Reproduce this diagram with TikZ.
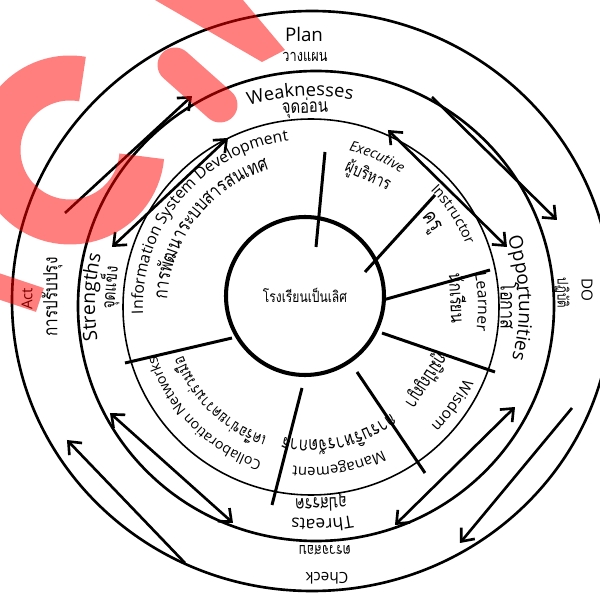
\documentclass[tikz,border=0pt]{standalone}
\usepackage{fontspec}
\setmainfont{Open Sans}
\newfontfamily\thaifont[Script=Thai,FakeStretch=0.78]{Loma}
\usetikzlibrary{calc,arrows.meta,decorations.text}
\newlength\pxl \setlength\pxl{0.02cm}
\newcommand\txtsize[1]{\fontsize{#1}{#1}\selectfont}
% text bent along a circle: (centre)(mid angle:radius){text}
\def\arclabel(#1)(#2:#3)#4{\path[decorate,decoration={text along path,text align=center,text={#4}}] ($(#1)+(#2+70:#3)$) arc[start angle=#2+70,end angle=#2-70,radius=#3];}

\begin{document}
\begin{tikzpicture}[x=0.02cm,y=0.02cm,
  ring/.style={line width=1.5pt},
  inner ring/.style={line width=0.9pt},
  spoke/.style={line width=1.7pt},
  arr/.style={line width=1.5pt,-{Straight Barb[length=6pt,width=10pt]}},
  darr/.style={line width=1.5pt,{Straight Barb[length=6pt,width=10pt]}-{Straight Barb[length=6pt,width=10pt]}},
  lbl/.style={inner sep=0pt}]
		%%%%% START %%%%%
		\useasboundingbox (0,0) rectangle (600,593);
		\clip (0,0) rectangle (600,593);
		
		\draw[ring] (312,292) ellipse [x radius=300,y radius=290];
		\draw[ring] (316,287) ellipse [x radius=238,y radius=235];
		\draw[inner ring] (311,286) circle (188);
		\draw[line width=2.3pt] (305,297) circle (79);
		
		\draw[spoke] (325,441) -- (316,346);
		\draw[spoke] (435,398) -- (365,321);
		\draw[spoke] (490,323) -- (383,293);
		\draw[spoke] (382,260) -- (495,221);
		\draw[spoke] (357,221) -- (425,120);
		\draw[spoke] (302,205) -- (272,88);
		\draw[spoke] (125,230) -- (232,255);
		
		%%%%% PDCA %%%%%
		\node[lbl] (plan) at (304,559) {\resizebox{38\pxl}{!}{Plan}};
		\node[lbl] (planth) at (305,536) {\resizebox{45\pxl}{!}{\thaifont วางแผน}};
		\node[lbl,rotate=90] (act) at (27,294) {\resizebox{22\pxl}{!}{Act}};
		\node[lbl,rotate=90] (actth) at (52,296) {\resizebox{79\pxl}{!}{\thaifont การปรับปรุง}};
		\node[lbl,rotate=-90] (do) at (587,303) {\resizebox{23\pxl}{!}{DO}};
		\node[lbl,rotate=-90] (doth) at (562,300) {\resizebox{30\pxl}{!}{\thaifont ปฏิบัติ}};
		\node[lbl,rotate=180] (check) at (327,15) {\resizebox{43\pxl}{!}{Check}};
		\node[lbl,rotate=180] (checkth) at (325,43) {\resizebox{52\pxl}{!}{\thaifont ตรวจสอบ}};
		
		%%%%% SWOT %%%%%
		\arclabel(313,287)(93.5:210){|\txtsize{10.4}|Weaknesses}
		\arclabel(313,287)(177.7:218){|\txtsize{11}|Strengths}
		\arclabel(313,287)(2.2:206){|\txtsize{10.8}|Opportunities}
		\arclabel(313,287)(-87.6:213){|\txtsize{9.8}|Threats}
		\node[lbl,rotate=2] (weakth) at (305,485) {\resizebox{46\pxl}{!}{\thaifont จุดอ่อน}};
		\node[lbl,rotate=85] (strth) at (110,305) {\resizebox{43\pxl}{!}{\thaifont จุดแข็ง}};
		\node[lbl,rotate=-90] (oppth) at (510,287) {\resizebox{47\pxl}{!}{\thaifont โอกาส}};
		\node[lbl,rotate=-178] (thrth) at (321,91) {\resizebox{52\pxl}{!}{\thaifont อุปสรรค}};
		
		%%%%% SECTORS %%%%%
		\arclabel(311,286)(140:168){|\txtsize{9}|Information System Development}
		\arclabel(311,286)(142:144){|\thaifont\txtsize{11.2}|{ก}{า}{ร}{พั}{ฒ}{น}{า}{ร}{ะ}{บ}{บ}{ส}{า}{ร}{ส}{น}{เ}{ท}{ศ}}
		\arclabel(311,286)(66.2:161){|\itshape\txtsize{8}|Executive}
		\arclabel(311,286)(33.1:167){|\txtsize{8.2}|Instructor}
		\arclabel(311,286)(1.7:167){|\txtsize{8.9}|Learner}
		\arclabel(311,286)(-35:169){|\txtsize{8.7}|Wisdom}
		\arclabel(311,286)(-79.9:160){|\txtsize{8.5}|Management}
		\arclabel(311,286)(-77.6:133){|\thaifont\txtsize{11}|{ก}{า}{ร}{บ}{ริ}{ห}{า}{ร}{จั}{ด}{ก}{า}{ร}}
		\arclabel(311,286)(225:162){|\txtsize{8}|Collaboration Networks}
		\arclabel(311,286)(226:137){|\thaifont\txtsize{9.3}|{เ}{ค}{รื}{อ}{ข่}{า}{ย}{ค}{ว}{า}{ม}{ร่}{ว}{ม}{มื}{อ}}
		\node[lbl,rotate=-24] (exeth) at (368,417) {\resizebox{48\pxl}{!}{\thaifont ผู้บริหาร}};
		\node[lbl,rotate=-55] (insth) at (430,370) {\resizebox{20\pxl}{!}{\thaifont ครู}};
		\node[lbl,rotate=-87] (lrnth) at (458,295) {\resizebox{50\pxl}{!}{\thaifont นักเรียน}};
		\node[lbl,rotate=-123] (wisth) at (426,213) {\resizebox{62\pxl}{!}{\thaifont ภูมิปัญญา}};
		\node[lbl] (school) at (305,298) {\resizebox{84\pxl}{!}{\thaifont โรงเรียนเป็นเลิศ}};
		
		%%%%% ARROWS %%%%%
		\coordinate (act1) at (65,380);   \coordinate (plan1) at (192,497);
		\coordinate (plan2) at (432,496); \coordinate (do2) at (557,373);
		\coordinate (do3) at (572,185);   \coordinate (check3) at (460,50);
		\coordinate (check4) at (185,30); \coordinate (act4) at (67,153);
		\coordinate (sw1) at (112,346);   \coordinate (ws1) at (228,455);
		\coordinate (wo1) at (388,463);   \coordinate (ow1) at (507,346);
		\coordinate (ot1) at (515,186);   \coordinate (to1) at (395,68);
		\coordinate (ts1) at (233,70);    \coordinate (st1) at (110,180);
		\draw[arr] (act1) -- (plan1);
		\draw[arr] (plan2) -- (do2);
		\draw[arr] (do3) -- (check3);
		\draw[arr] (check4) -- (act4);
		\draw[darr] (sw1) -- (ws1);
		\draw[darr] (wo1) -- (ow1);
		\draw[darr] (ot1) -- (to1);
		\draw[darr] (ts1) -- (st1);
		
		%%%%% STAMP %%%%%
		\begin{scope}[red,opacity=0.5]
		\draw[line width=45\pxl] ($(70,443)+(80:72)$) arc[start angle=80,end angle=355,radius=72];
		\fill (155,593) -- (243,593) -- (285,543) -- (262,531) -- cycle;
		\draw[line width=35\pxl,line cap=round] (175,528) -- (220,488);
		\draw[line width=25\pxl] (-5,308) -- (40,293);
		\end{scope}
		%%%%% END %%%%%
\end{tikzpicture}
\end{document}
